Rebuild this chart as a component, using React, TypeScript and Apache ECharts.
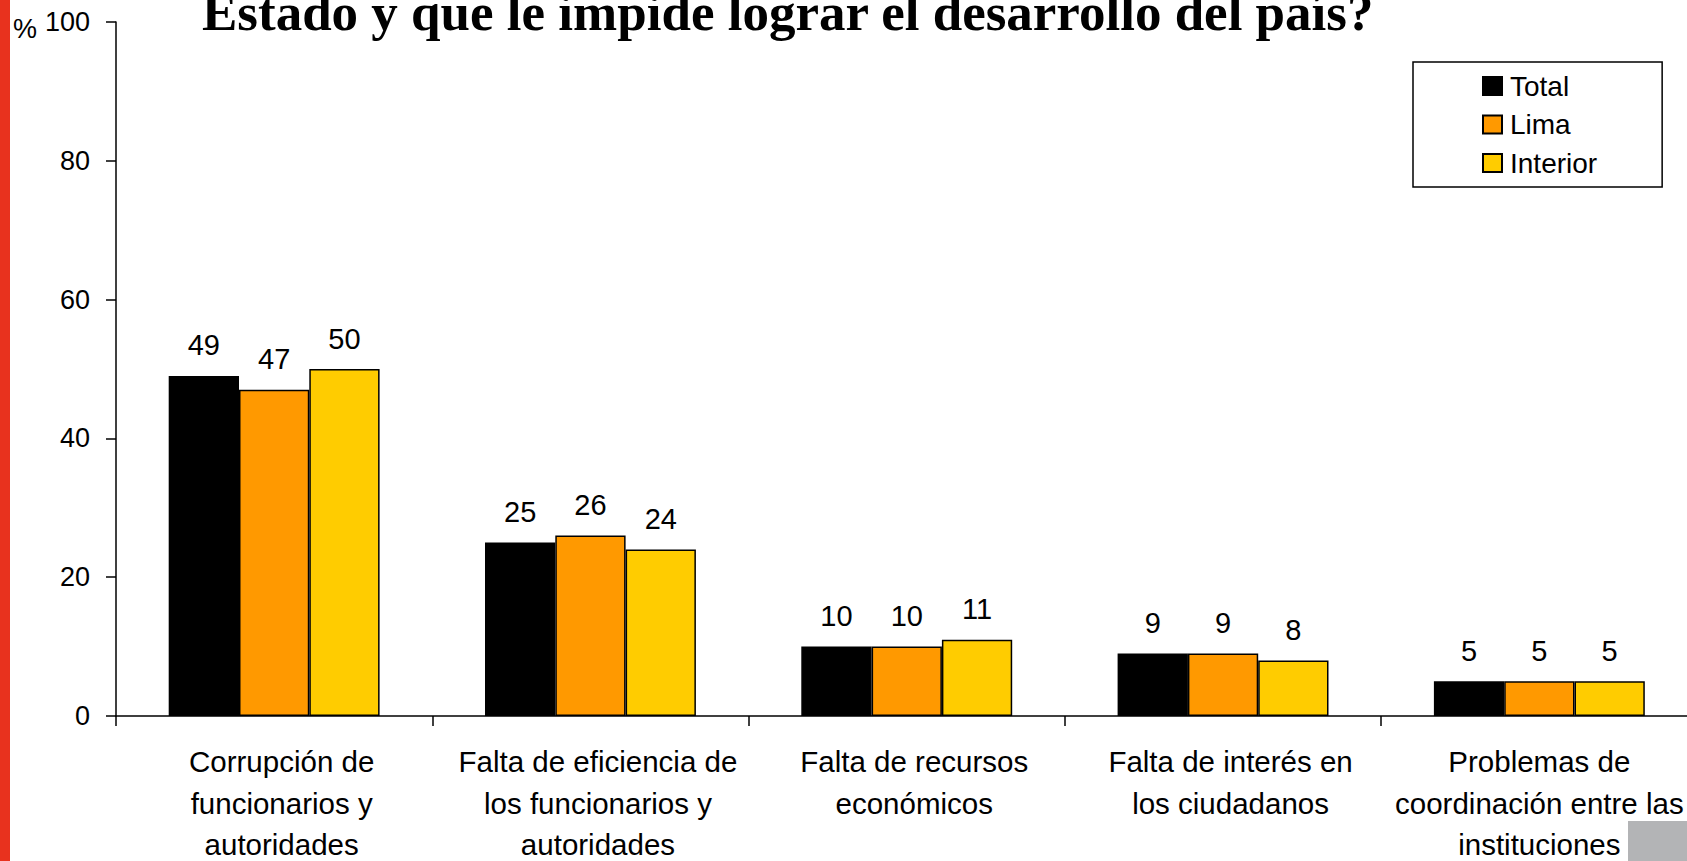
import React, { useEffect, useRef } from "react";
import * as echarts from "echarts";

const categories = [
  "Corrupción de\nfuncionarios y\nautoridades",
  "Falta de eficiencia de\nlos funcionarios y\nautoridades",
  "Falta de recursos\neconómicos",
  "Falta de interés en\nlos ciudadanos",
  "Problemas de\ncoordinación entre las\ninstituciones",
];
const seriesNames = ["Total", "Lima", "Interior"];
const totalValues = [49, 25, 10, 9, 5];
const limaValues = [47, 26, 10, 9, 5];
const interiorValues = [50, 24, 11, 8, 5];
const seriesColors = ["#000000", "#FF9900", "#FFCC00"];
const titleText = "Estado y que le impide lograr el desarrollo del país?";

const SANS = '"Liberation Sans", Arial, sans-serif';

export default function App() {
  const ref = useRef<HTMLDivElement>(null);
  useEffect(() => {
    document.body.style.margin = "0";
    const chart = echarts.init(ref.current!, undefined, { renderer: "svg" });
    const values = [totalValues, limaValues, interiorValues];
    const lastIdx = categories.length - 1;
    chart.setOption({
      animation: false,
      backgroundColor: "#ffffff",
      grid: {
        left: 116,
        top: 22,
        width: 1581.5,
        height: 694,
        outerBoundsMode: "none",
        containLabel: false,
      },
      legend: {
        orient: "vertical",
        left: 1413,
        top: 62,
        padding: [10, 65, 10, 69],
        itemWidth: 19,
        itemHeight: 18,
        itemGap: 10.5,
        backgroundColor: "#ffffff",
        borderColor: "#000000",
        borderWidth: 1.5,
        borderRadius: 0,
        icon: "rect",
        selectedMode: false,
        textStyle: {
          fontFamily: SANS,
          fontSize: 28,
          color: "#000000",
          padding: [0, 0, 0, 3],
        },
        data: seriesNames,
      },
      xAxis: {
        type: "category",
        data: categories.map((c, i) => ({
          value: c,
          textStyle: { padding: i === lastIdx ? 0 : [0, 0, 0, 15] },
        })),
        boundaryGap: true,
        axisLine: { show: true, lineStyle: { color: "#000000", width: 1.5 } },
        axisTick: { show: true, length: 10, inside: false, lineStyle: { color: "#000000", width: 1.5 } },
        axisLabel: {
          interval: 0,
          margin: 25,
          fontFamily: SANS,
          fontSize: 29.5,
          lineHeight: 41.5,
          color: "#000000",
          align: "center",
        },
        splitLine: { show: false },
      },
      yAxis: {
        type: "value",
        min: 0,
        max: 100,
        interval: 20,
        axisLine: { show: true, lineStyle: { color: "#000000", width: 1.5 } },
        axisTick: { show: true, length: 10, inside: false, lineStyle: { color: "#000000", width: 1.5 } },
        axisLabel: {
          margin: 26,
          fontFamily: SANS,
          fontSize: 27,
          color: "#000000",
        },
        splitLine: { show: false },
      },
      series: seriesNames.map((name, i) => ({
        name,
        type: "bar",
        data: values[i],
        barWidth: 70.3,
        barGap: "0%",
        itemStyle: {
          color: seriesColors[i],
          borderColor: "#000000",
          borderWidth: 1.5,
        },
        label: {
          show: true,
          position: "top",
          distance: 16,
          fontFamily: SANS,
          fontSize: 29,
          color: "#000000",
        },
      })),
      graphic: [
        {
          type: "rect",
          left: 0,
          top: 0,
          shape: { width: 10, height: 861 },
          style: { fill: "#E8321E" },
          z: 100,
        },
        {
          type: "text",
          x: 202,
          y: 12,
          style: {
            text: titleText,
            font: 'bold 53px "Liberation Serif", "Times New Roman", serif',
            fill: "#000000",
            verticalAlign: "middle",
            align: "left",
          },
          z: 100,
        },
        {
          type: "text",
          x: 13,
          y: 28.6,
          style: {
            text: "%",
            font: '27px "Liberation Sans", Arial, sans-serif',
            fill: "#000000",
            verticalAlign: "middle",
            align: "left",
          },
          z: 100,
        },
        {
          type: "rect",
          x: 1628,
          y: 821,
          shape: { width: 59, height: 40 },
          style: { fill: "#B3B4B6" },
          z: 100,
        },
      ],
    });
    return () => chart.dispose();
  }, []);
  return (
    <div
      ref={ref}
      style={{ position: "absolute", left: 0, top: 0, width: 1687, height: 861 }}
    />
  );
}
